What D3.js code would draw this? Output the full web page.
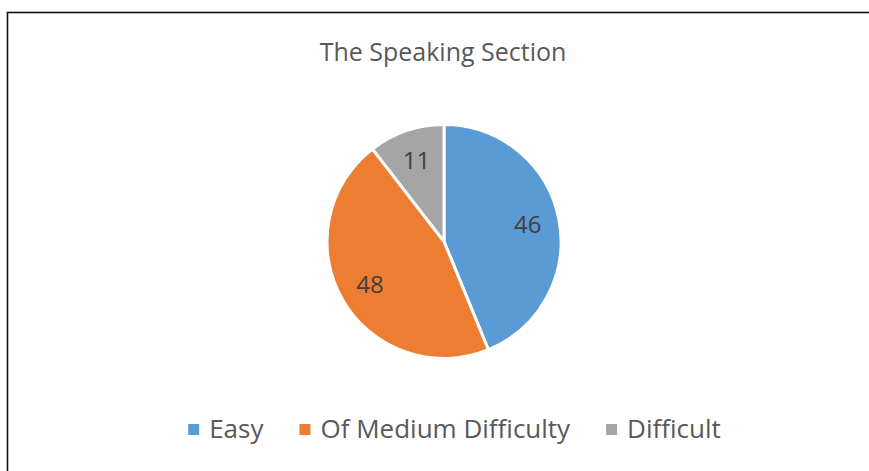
<!DOCTYPE html>
<html>
<head>
<meta charset="utf-8">
<script src="https://cdn.jsdelivr.net/npm/d3@7"></script>
<style>
  body { margin: 0; background: #fff; }
  svg { display: block; font-family: "Open Sans", sans-serif; }
</style>
</head>
<body>
<svg id="chart" width="869" height="471"></svg>
<script>
// data
const title = "The Speaking Section";
const categories = ["Easy", "Of Medium Difficulty", "Difficult"];
const values = [46, 48, 11];
const colors = ["#5B9BD5", "#ED7D31", "#A5A5A5"];

const width = 869, height = 471;
const cx = 444, cy = 241.5, radius = 117;

const svg = d3.select("#chart");

// chart frame (right and bottom edges fall outside the picture)
svg.append("rect")
    .attr("x", 7.5).attr("y", 12.5)
    .attr("width", 900).attr("height", 500)
    .attr("fill", "none")
    .attr("stroke", "#111")
    .attr("stroke-width", 1.6);

// title
svg.append("text")
    .attr("x", 443)
    .attr("y", 61)
    .attr("text-anchor", "middle")
    .attr("font-size", "25px")
    .attr("fill", "#595959")
    .text(title);

const color = d3.scaleOrdinal().domain(categories).range(colors);

const pie = d3.pie().sort(null).value(d => d.value);
const arcs = pie(categories.map((c, i) => ({name: c, value: values[i]})));

const arc = d3.arc().innerRadius(0).outerRadius(radius);
const labelArc = d3.arc().innerRadius(radius * 0.73).outerRadius(radius * 0.73);

const g = svg.append("g").attr("transform", "translate(" + cx + "," + cy + ")");

g.selectAll(".slice")
  .data(arcs)
  .enter().append("path")
    .attr("class", "slice")
    .attr("d", arc)
    .attr("fill", d => color(d.data.name))
    .attr("stroke", "#fff")
    .attr("stroke-width", 3)
    .attr("stroke-linejoin", "round");

g.selectAll(".lbl")
  .data(arcs)
  .enter().append("text")
    .attr("class", "lbl")
    .attr("transform", d => "translate(" + labelArc.centroid(d) + ")")
    .attr("text-anchor", "middle")
    .attr("dy", "0.35em")
    .attr("font-size", "24px")
    .attr("fill", "#404040")
    .text(d => d.data.value);

// legend
const legend = svg.append("g").attr("class", "legend");
const items = legend.selectAll(".item")
  .data(categories)
  .enter().append("g")
    .attr("class", "item");

items.append("rect")
    .attr("width", 11).attr("height", 11)
    .attr("y", -5)
    .attr("fill", d => color(d));

items.append("text")
    .attr("x", 21)
    .attr("dy", "0.35em")
    .attr("font-size", "26px")
    .attr("fill", "#595959")
    .text(d => d);

let xpos = 0;
items.each(function() {
  const w = this.getBBox().width;
  d3.select(this).attr("transform", "translate(" + xpos + ",0)");
  xpos += w + 35;
});
const legendW = xpos - 35;
legend.attr("transform", "translate(" + (454.5 - legendW / 2) + ",429)");
</script>
</body>
</html>
